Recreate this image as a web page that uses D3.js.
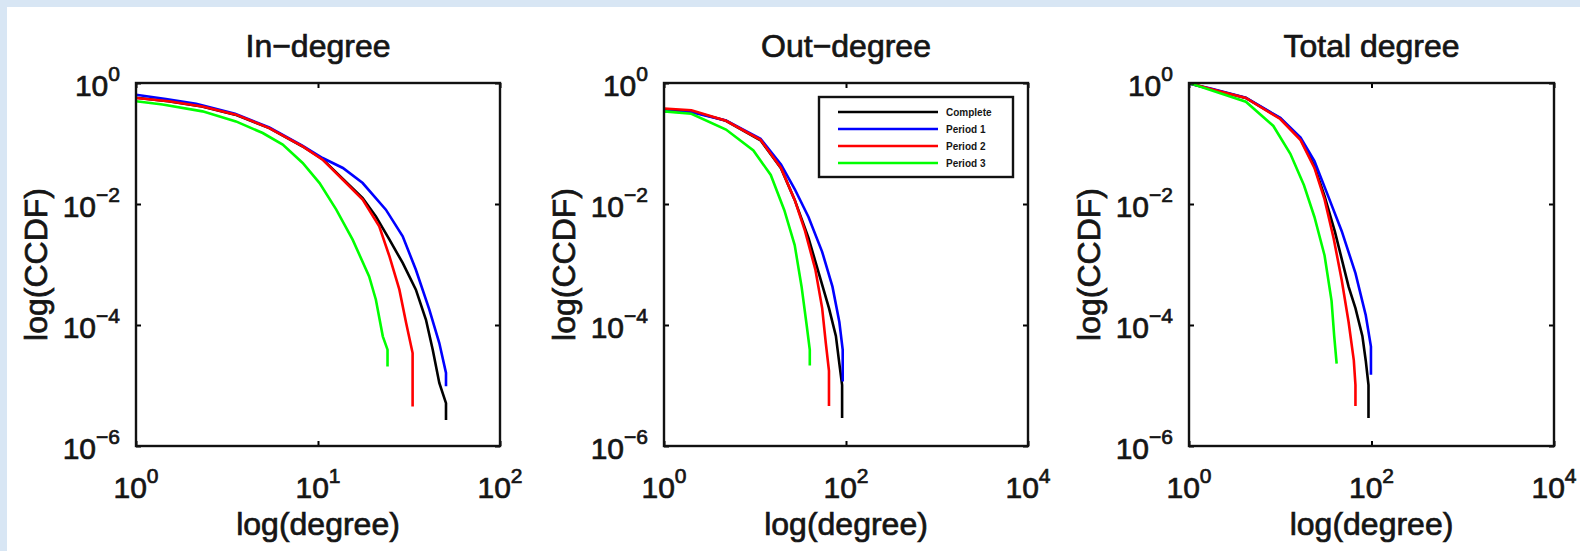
<!DOCTYPE html>
<html><head><meta charset="utf-8">
<script src="https://cdn.jsdelivr.net/npm/d3@7"></script>
<style>
html,body{margin:0;padding:0;background:#d8e6f4;}
svg{display:block;}
text{font-family:"Liberation Sans",Arial,Helvetica,sans-serif;fill:#151515;}
text.heavy{stroke:#151515;stroke-width:0.7px;}
</style></head>
<body>
<svg id="chart" width="1580" height="551"></svg>
<script>
// ---- data (degree, CCDF) ----
const seriesNames = ["Complete", "Period 1", "Period 2", "Period 3"];
const seriesColors = ["#000000", "#0000ff", "#ff0000", "#00ff00"];
const panelTitles = ["In\u2212degree", "Out\u2212degree", "Total degree"];
const xTickValuesIn = [1, 10, 100];
const xTickValuesWide = [1, 100, 10000];
const yTickValues = [1, 1e-2, 1e-4, 1e-6];
const xTickExpIn = ["0", "1", "2"];
const xTickExpWide = ["0", "2", "4"];
const yTickExp = ["0", "\u22122", "\u22124", "\u22126"];

const inComplete = [[1,0.57],[1.5,0.50],[2.3,0.41],[3.5,0.30],[5.4,0.18],[8.2,0.09],[10.6,0.055],[13.7,0.026],[17.6,0.0125],[20.8,6.25e-3],[24.7,2.57e-3],[29.2,1.06e-3],[34.5,3.84e-4],[39.2,1.22e-4],[42.7,3.91e-5],[46.4,1.1e-5],[50.5,5.1e-6],[50.5,2.7e-6]];
const inPeriod1 = [[1,0.64],[1.46,0.544],[2.14,0.455],[3.5,0.31],[5.4,0.185],[8.2,0.092],[10.6,0.0576],[13.7,0.0394],[17.6,0.0222],[23.6,8.06e-3],[29.2,2.92e-3],[34.5,8.2e-4],[40.9,1.79e-4],[46.4,5.04e-5],[50.5,1.61e-5],[50.5,9.7e-6]];
const inPeriod2 = [[1,0.565],[1.52,0.50],[2.32,0.41],[3.54,0.30],[5.4,0.18],[8.24,0.0898],[10.6,0.054],[13.7,0.0252],[17.6,0.0118],[21.7,4.27e-3],[24.7,1.36e-3],[28,3.84e-4],[30.5,1.08e-4],[33.1,3.44e-5],[33.1,4.5e-6]];
const inPeriod3 = [[1,0.50],[1.4,0.44],[2.32,0.34],[3.54,0.232],[4.97,0.149],[6.4,0.0957],[8.24,0.0476],[10.2,0.0222],[12.6,8.06e-3],[15.5,2.57e-3],[19.1,6.37e-4],[20.8,2.62e-4],[22.7,6.5e-5],[24.1,3.91e-5],[24.1,2.07e-5]];

const outComplete = [[1,0.36],[2,0.34],[4.8,0.237],[11.5,0.113],[19.3,0.039],[27.3,0.0117],[38.7,2.75e-3],[50.2,7.2e-4],[65,1.9e-4],[77.4,6.6e-5],[84.5,2.3e-5],[90.6,1.02e-5],[90.6,2.9e-6]];
const outPeriod1 = [[1,0.34],[2,0.33],[4.8,0.24],[11.5,0.12],[19.3,0.045],[27.3,0.0177],[38.7,6.1e-3],[54.7,1.62e-3],[71,4.3e-4],[84.5,1.12e-4],[92,3.9e-5],[92,1.17e-5]];
const outPeriod2 = [[1,0.38],[2,0.355],[4.8,0.237],[11.5,0.115],[19.3,0.0394],[27.3,0.0117],[35.5,3.55e-3],[46,8.3e-4],[54.7,1.9e-4],[60,5e-5],[65,1.74e-5],[65,4.6e-6]];
const outPeriod3 = [[1,0.34],[2,0.31],[4.8,0.17],[9.6,0.0766],[14.9,0.0302],[21,7.9e-3],[27.3,2.1e-3],[32.5,4.3e-4],[37,9.8e-5],[40,3.9e-5],[40,2.14e-5]];

const totalComplete = [[1,0.98],[1.77,0.79],[4.2,0.565],[10,0.26],[16.7,0.118],[23.7,0.042],[30.6,0.0135],[39.7,3.5e-3],[47.2,1.23e-3],[56.1,4.3e-4],[66.7,1.9e-4],[79.4,6.6e-5],[86.5,2.57e-5],[92.7,1.02e-5],[92.7,2.9e-6]];
const totalPeriod1 = [[1,0.98],[1.77,0.80],[4.2,0.57],[10,0.265],[16.7,0.125],[23.7,0.051],[33.5,0.0135],[47.2,3.55e-3],[66.7,7.2e-4],[86.5,1.45e-4],[98.6,4.4e-5],[98.6,1.5e-5]];
const totalPeriod2 = [[1,1.0],[1.77,0.79],[4.2,0.565],[10,0.254],[16.7,0.114],[23.7,0.0394],[30.6,0.0119],[38.4,2.75e-3],[47.2,5.5e-4],[56.1,1.12e-4],[64,2.6e-5],[66.7,1.02e-5],[66.7,4.6e-6]];
const totalPeriod3 = [[1,1.0],[4.2,0.49],[8.4,0.195],[12.9,0.0676],[18.2,0.0204],[23.7,6.1e-3],[30.6,1.41e-3],[36.5,2.5e-4],[39,6.6e-5],[41.5,2.3e-5]];

// ---- layout ----
const svg = d3.select("#chart");
svg.append("rect").attr("x", 7).attr("y", 7).attr("width", 1580).attr("height", 551).attr("fill", "#ffffff");

const plotTop = 83, plotBottom = 446;
const panels = [
  {title: panelTitles[0], left: 136, right: 500, xDomain: [1, 100], xt: xTickValuesIn, xe: xTickExpIn, series: [inComplete, inPeriod1, inPeriod2, inPeriod3]},
  {title: panelTitles[1], left: 664, right: 1028, xDomain: [1, 1e4], xt: xTickValuesWide, xe: xTickExpWide, series: [outComplete, outPeriod1, outPeriod2, outPeriod3], legend: true},
  {title: panelTitles[2], left: 1189, right: 1554, xDomain: [1, 1e4], xt: xTickValuesWide, xe: xTickExpWide, series: [totalComplete, totalPeriod1, totalPeriod2, totalPeriod3]}
];

function powLabel(sel, exp, baseSize, expSize, rise) {
  sel.append("tspan").attr("font-size", baseSize).text("10");
  sel.append("tspan").attr("font-size", expSize).attr("dy", -rise).text(exp);
}

panels.forEach((p, pi) => {
  const x = d3.scaleLog().domain(p.xDomain).range([p.left, p.right]);
  const y = d3.scaleLog().domain([1e-6, 1]).range([plotBottom, plotTop]);
  const g = svg.append("g");

  const cid = "clip" + pi;
  svg.append("clipPath").attr("id", cid).append("rect")
    .attr("x", p.left).attr("y", plotTop).attr("width", p.right - p.left).attr("height", plotBottom - plotTop);

  const line = d3.line().x(d => x(d[0])).y(d => y(d[1]));
  const lg = g.append("g").attr("clip-path", `url(#${cid})`);
  p.series.forEach((s, si) => {
    lg.append("path").datum(s).attr("d", line)
      .attr("fill", "none").attr("stroke", seriesColors[si])
      .attr("stroke-width", 2.6).attr("stroke-linejoin", "miter");
  });

  const tickLen = 5;
  const ax = [
    d3.axisBottom(x).tickValues(p.xt).tickSize(-tickLen).tickFormat(""),
    d3.axisTop(x).tickValues(p.xt).tickSize(-tickLen).tickFormat(""),
    d3.axisLeft(y).tickValues(yTickValues).tickSize(-tickLen).tickFormat(""),
    d3.axisRight(y).tickValues(yTickValues).tickSize(-tickLen).tickFormat("")
  ];
  const tr = [`translate(0,${plotBottom})`, `translate(0,${plotTop})`, `translate(${p.left},0)`, `translate(${p.right},0)`];
  ax.forEach((a, i) => {
    const ag = g.append("g").attr("transform", tr[i]).call(a);
    ag.select(".domain").remove();
    ag.selectAll("line").attr("stroke", "#000").attr("stroke-width", 2);
  });

  g.append("rect").attr("x", p.left).attr("y", plotTop)
    .attr("width", p.right - p.left).attr("height", plotBottom - plotTop)
    .attr("fill", "none").attr("stroke", "#111").attr("stroke-width", 2.4);

  p.xt.forEach((v, i) => {
    const t = g.append("text").attr("class", "heavy").attr("x", x(v)).attr("y", plotBottom + 52).attr("text-anchor", "middle");
    powLabel(t, p.xe[i], 30, 21, 15);
  });
  yTickValues.forEach((v, i) => {
    const t = g.append("text").attr("class", "heavy").attr("x", p.left - 16).attr("y", y(v) + 13).attr("text-anchor", "end");
    powLabel(t, yTickExp[i], 30, 21, 15);
  });

  g.append("text").attr("class", "heavy").attr("x", (p.left + p.right) / 2).attr("y", 57)
    .attr("text-anchor", "middle").attr("font-size", 32).text(p.title);
  g.append("text").attr("class", "heavy").attr("x", (p.left + p.right) / 2).attr("y", 535)
    .attr("text-anchor", "middle").attr("font-size", 32).text("log(degree)");
  g.append("text").attr("class", "heavy").attr("transform", `translate(${p.left - 89},${(plotTop + plotBottom) / 2}) rotate(-90)`)
    .attr("text-anchor", "middle").attr("font-size", 32).text("log(CCDF)");

  if (p.legend) {
    const lx = 819, ly = 97, lw = 194, lh = 80;
    const leg = g.append("g");
    leg.append("rect").attr("x", lx).attr("y", ly).attr("width", lw).attr("height", lh)
      .attr("fill", "#fff").attr("stroke", "#111").attr("stroke-width", 2.4);
    const rowY = d3.scalePoint().domain(seriesNames).range([ly + 15, ly + 66]);
    seriesNames.forEach((n, si) => {
      leg.append("line").attr("x1", lx + 19).attr("x2", lx + 119)
        .attr("y1", rowY(n)).attr("y2", rowY(n))
        .attr("stroke", seriesColors[si]).attr("stroke-width", 2.6);
      leg.append("text").attr("x", lx + 127).attr("y", rowY(n) + 4)
        .attr("font-size", 10).attr("font-weight", "bold").text(n);
    });
  }
});
</script>
</body></html>
